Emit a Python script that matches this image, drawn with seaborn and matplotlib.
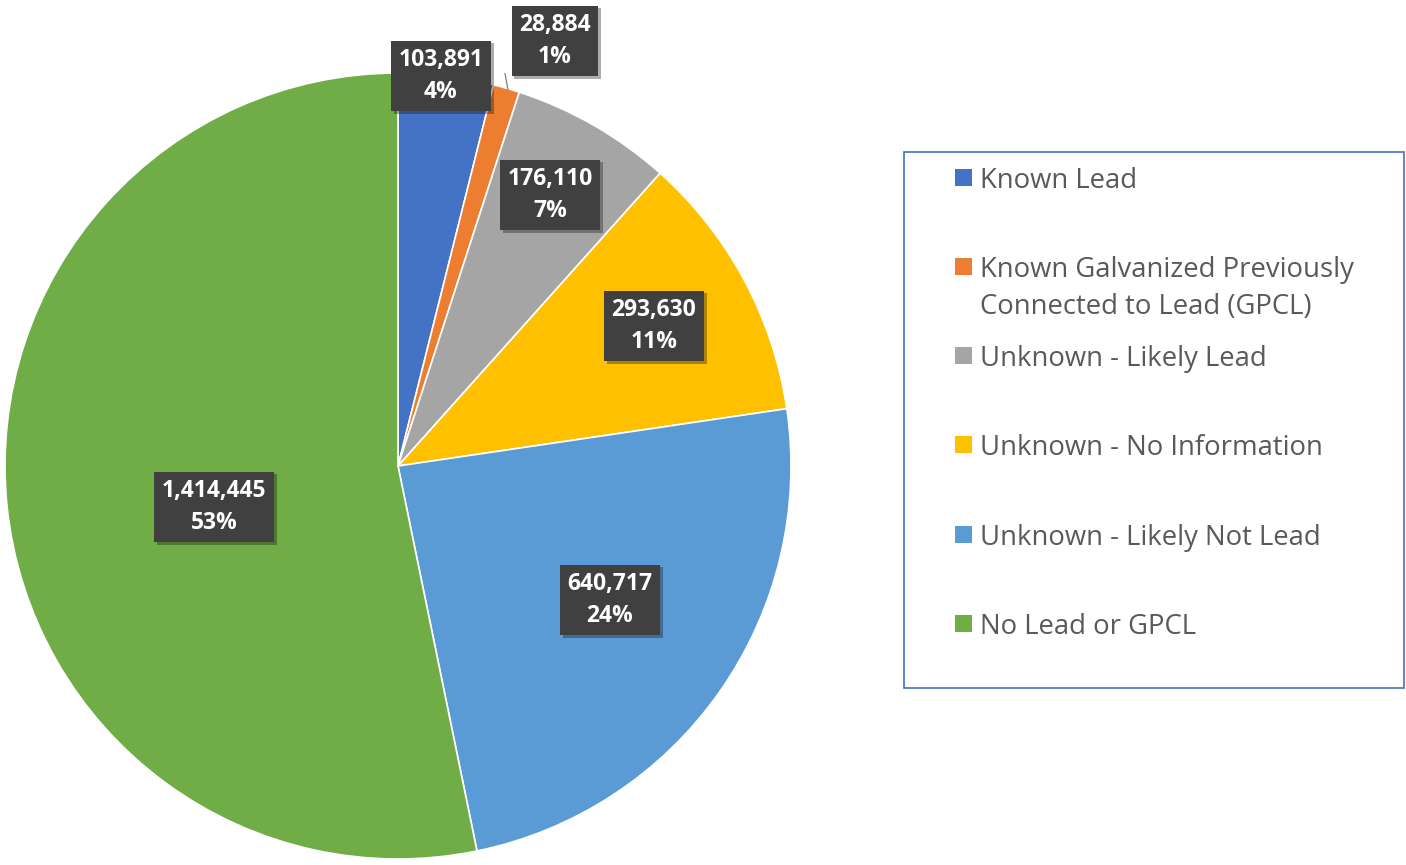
import matplotlib
matplotlib.use("Agg")
import matplotlib.pyplot as plt
import matplotlib.patheffects as pe
from matplotlib.patches import Rectangle
import seaborn as sns

categories = ["Known Lead",
              "Known Galvanized Previously\nConnected to Lead (GPCL)",
              "Unknown - Likely Lead",
              "Unknown - No Information",
              "Unknown - Likely Not Lead",
              "No Lead or GPCL"]
counts = [103891, 28884, 176110, 293630, 640717, 1414445]
colors = ["#4472C4", "#ED7D31", "#A5A5A5", "#FFC000", "#5B9BD5", "#70AD47"]

# label box centres in pixels (layout only)
label_px = [(441, 76), (555, 41), (550, 195), (654, 326), (610, 600), (214, 507)]

W, H = 1406, 865
sns.set_theme(style="white")
plt.rcParams['font.family'] = ['Open Sans', 'DejaVu Sans']

fig = plt.figure(figsize=(W / 100, H / 100), dpi=100)
cx, cy, r = 398, 466, 393
ax = fig.add_axes([(cx - r) / W, (H - cy - r) / H, 2 * r / W, 2 * r / H])
ax.pie(counts, colors=sns.color_palette(colors), startangle=90, counterclock=False,
       wedgeprops=dict(edgecolor='white', linewidth=1.2))
ax.set_xlim(-1, 1)
ax.set_ylim(-1, 1)
ax.set_aspect('auto')
ax.axis('off')

total = sum(counts)
for v, (px, py) in zip(counts, label_px):
    x = (px - cx) / r
    y = (cy - py) / r
    t = ax.text(x, y, f"{v:,}\n{round(v / total * 100)}%", ha='center', va='center',
                color='white', fontsize=16.5, fontweight='bold', linespacing=1.42,
                bbox=dict(boxstyle='square,pad=0.33', fc='#404040', ec='none'), zorder=5)
    t.get_bbox_patch().set_path_effects([pe.withSimplePatchShadow(offset=(2, -2), alpha=0.35),
                                         pe.Normal()])

# leader line for the small slice
lx = [(510 - cx) / r, (497 - cx) / r, (508 - cx) / r]
ly = [(cy - 29) / r, (cy - 29) / r, (cy - 90) / r]
ax.plot(lx, ly, color='#7f7f7f', lw=0.9, zorder=6)

# legend drawn in pixel space
lg = fig.add_axes([0, 0, 1, 1])
lg.set_xlim(0, W)
lg.set_ylim(H, 0)
lg.axis('off')
lg.add_patch(Rectangle((904, 152), 500, 536, fill=False, ec='#4472C4', lw=1.2))
ys = [178, 267, 356, 445, 535, 624]
for lab, c, yy in zip(categories, colors, ys):
    lg.add_patch(Rectangle((955, yy - 9), 17, 17, fc=c, ec='none'))
    for i, line in enumerate(lab.split('\n')):
        lg.text(980, yy + 10 + 37 * i, line, va='baseline', ha='left',
                fontsize=19.8, color='#595959')

fig.savefig("out.png", dpi=100)
